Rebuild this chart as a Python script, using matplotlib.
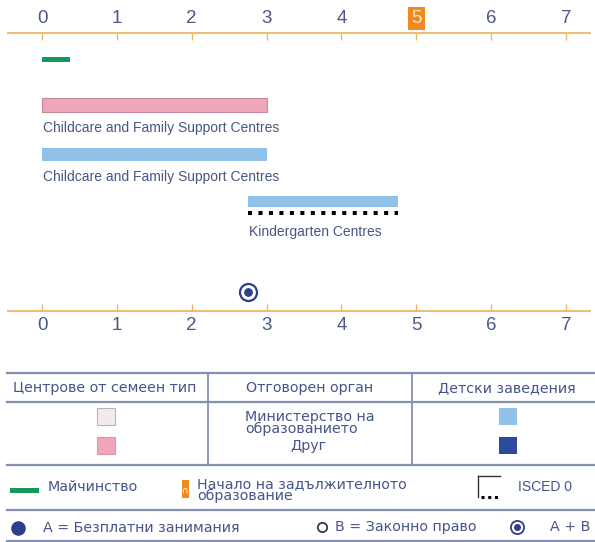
import matplotlib
matplotlib.use("Agg")
from matplotlib import pyplot as plt
from matplotlib import font_manager
from matplotlib.patches import Rectangle

plt.rcParams["font.family"] = ["DejaVu Sans"]

# ages (years) on the axis
ticks = [0, 1, 2, 3, 4, 5, 6, 7]
compulsory_age = 5

# bars: start age, end age, colour key, label
bar_start = [0, 0, 0, 2.75]
bar_end = [0.37, 3, 3, 4.75]
bar_kind = ["maternity", "family_other", "inst_ministry", "inst_ministry"]
bar_labels = ["", "Childcare and Family Support Centres",
              "Childcare and Family Support Centres", "Kindergarten Centres"]
isced_start = [2.75]
isced_end = [4.75]
free_and_legal_age = [2.75]

# legend texts
col_headers = ["Центрове от семеен тип", "Отговорен орган", "Детски заведения"]
authority = ["Министерство на\nобразованието", "Друг"]

colors = {
    "maternity": "#139a5b",
    "family_ministry": "#f3eaee",
    "family_other": "#f0a6b9",
    "inst_ministry": "#90c1e8",
    "inst_other": "#2c4a9b",
}
axis_col = "#ebb766"
text_col = "#46558a"
line_col = "#8590b0"
orange = "#f08a1e"
dot_col = "#2c3f8e"

try:
    font_manager.findfont("Liberation Sans Narrow", fallback_to_default=False)
    narrow, tick_size, lab_size = "Liberation Sans Narrow", 15, 12
except ValueError:
    narrow, tick_size, lab_size = "Liberation Sans", 13.5, 10

W, H = 595, 542
fig = plt.figure(figsize=(W / 100, H / 100), dpi=100)

# overlay in pixel coordinates for the legend block
lay = fig.add_axes([0, 0, 1, 1])
lay.set_xlim(0, W)
lay.set_ylim(H, 0)
lay.axis("off")

# main timeline axes: x = age, y = pixel rows
x0, x7 = 42, 566
unit = (x7 - x0) / 7
ax_l, ax_r, ax_t, ax_b = 8, 590, 33, 311
ax = fig.add_axes([ax_l / W, 1 - ax_b / H, (ax_r - ax_l) / W, (ax_b - ax_t) / H])
ax.set_facecolor("none")
ax.set_xlim((ax_l - x0) / unit, (ax_r - x0) / unit)
ax.set_ylim(ax_b, ax_t)
for s in ["left", "right"]:
    ax.spines[s].set_visible(False)
for s in ["top", "bottom"]:
    ax.spines[s].set_color(axis_col)
    ax.spines[s].set_linewidth(1.3)
ax.set_yticks([])
ax.set_xticks(ticks)
ax.tick_params(axis="x", which="both", top=True, bottom=True, labeltop=True,
               labelbottom=True, direction="in", length=5, width=1,
               color=axis_col, labelcolor="#4b5785", labelsize=tick_size, pad=4)

row_y = [59.5, 105, 154.5, 201.5]
row_h = [5, 14, 13, 11]
label_y = [0, 128, 177, 232]
for i in range(len(bar_start)):
    edge = "#c98b9c" if bar_kind[i] == "family_other" else "none"
    ax.barh(row_y[i], bar_end[i] - bar_start[i], left=bar_start[i], height=row_h[i],
            color=colors[bar_kind[i]], edgecolor=edge, linewidth=0.8)
    if bar_labels[i]:
        ax.text(bar_start[i] + 0.01, label_y[i], bar_labels[i], family=narrow,
                fontsize=lab_size, color="#4a5585", ha="left", va="center")

for s, e in zip(isced_start, isced_end):
    ax.plot([s, e], [212.5, 212.5], color="black", lw=2.9, dashes=(1, 1.6),
            dash_capstyle="butt")

for a in free_and_legal_age:
    ax.scatter([a], [292], s=150, facecolor="white", edgecolor=dot_col, lw=1.6, zorder=5)
    ax.scatter([a], [292], s=28, color=dot_col, zorder=6)

# ---- legend block ----
for y in [373, 402, 465, 510, 541]:
    lay.plot([7, W], [y, y], color=line_col, lw=1.6)
for x in [208, 412]:
    lay.plot([x, x], [373, 465], color=line_col, lw=1.3)

hdr_x = [105, 310, 507]
for x, t in zip(hdr_x, col_headers):
    lay.text(x, 388, t, ha="center", va="center", fontsize=10.3, color=text_col)

for key, y in zip(["family_ministry", "family_other"], [408, 437]):
    lay.add_patch(Rectangle((97, y), 18, 17, facecolor=colors[key],
                            edgecolor="#b9b4bb" if key == "family_ministry" else "#d89aaa",
                            lw=0.8))
for key, y in zip(["inst_ministry", "inst_other"], [408, 437]):
    lay.add_patch(Rectangle((499, y), 18, 17, facecolor=colors[key], edgecolor="none"))

lay.text(245, 423, authority[0], ha="left", va="center", fontsize=10.3,
         color=text_col, linespacing=0.85)
lay.text(308, 446, authority[1], ha="center", va="center", fontsize=10.3, color=text_col)

# second row: maternity / compulsory / ISCED
lay.add_patch(Rectangle((10, 488), 29, 5, facecolor=colors["maternity"], edgecolor="none"))
lay.text(48, 487, "Майчинство", ha="left", va="center", fontsize=10.3, color=text_col)
lay.add_patch(Rectangle((182, 480), 7, 18, facecolor=orange, edgecolor="none"))
lay.text(185.5, 490, "∩", ha="center", va="center", fontsize=6.5, color="white")
lay.text(197, 490, "Начало на задължителното\nобразование", ha="left", va="center",
         fontsize=10.3, color=text_col, linespacing=0.85)
lay.plot([478, 500], [475.5, 475.5], color="#333333", lw=1)
lay.plot([478, 478], [475.5, 497], color="#333333", lw=1)
lay.plot([481, 500], [497, 497], color="black", lw=2.2, dashes=(1, 1.2),
         dash_capstyle="butt")
lay.text(518, 487, "ISCED 0", ha="left", va="center", family=narrow,
         fontsize=lab_size, color=text_col)

# third row: access symbols
lay.scatter([18], [528], s=90, color=dot_col)
lay.text(43, 528, "A = Безплатни занимания", ha="left", va="center",
         fontsize=10.3, color=text_col)
lay.scatter([322], [527], s=45, facecolor="white", edgecolor="#333a55", lw=1.3)
lay.text(335, 527, "B = Законно право", ha="left", va="center",
         fontsize=10.3, color=text_col)
lay.scatter([517], [527], s=90, facecolor="white", edgecolor=dot_col, lw=1.3)
lay.scatter([517], [527], s=16, color=dot_col)
lay.text(550, 527, "A + B", ha="left", va="center", fontsize=10.3, color=text_col)

# tick label styling after the ticks exist
fig.canvas.draw()
for t in ax.xaxis.get_major_ticks():
    t.label1.set_fontfamily(narrow)
    t.label2.set_fontfamily(narrow)
    if t.get_loc() == compulsory_age:
        t.label2.set_color("#fde3c0")
        t.label2.set_bbox(dict(facecolor=orange, edgecolor="none", pad=2.2))

fig.savefig("out.png", dpi=100)
